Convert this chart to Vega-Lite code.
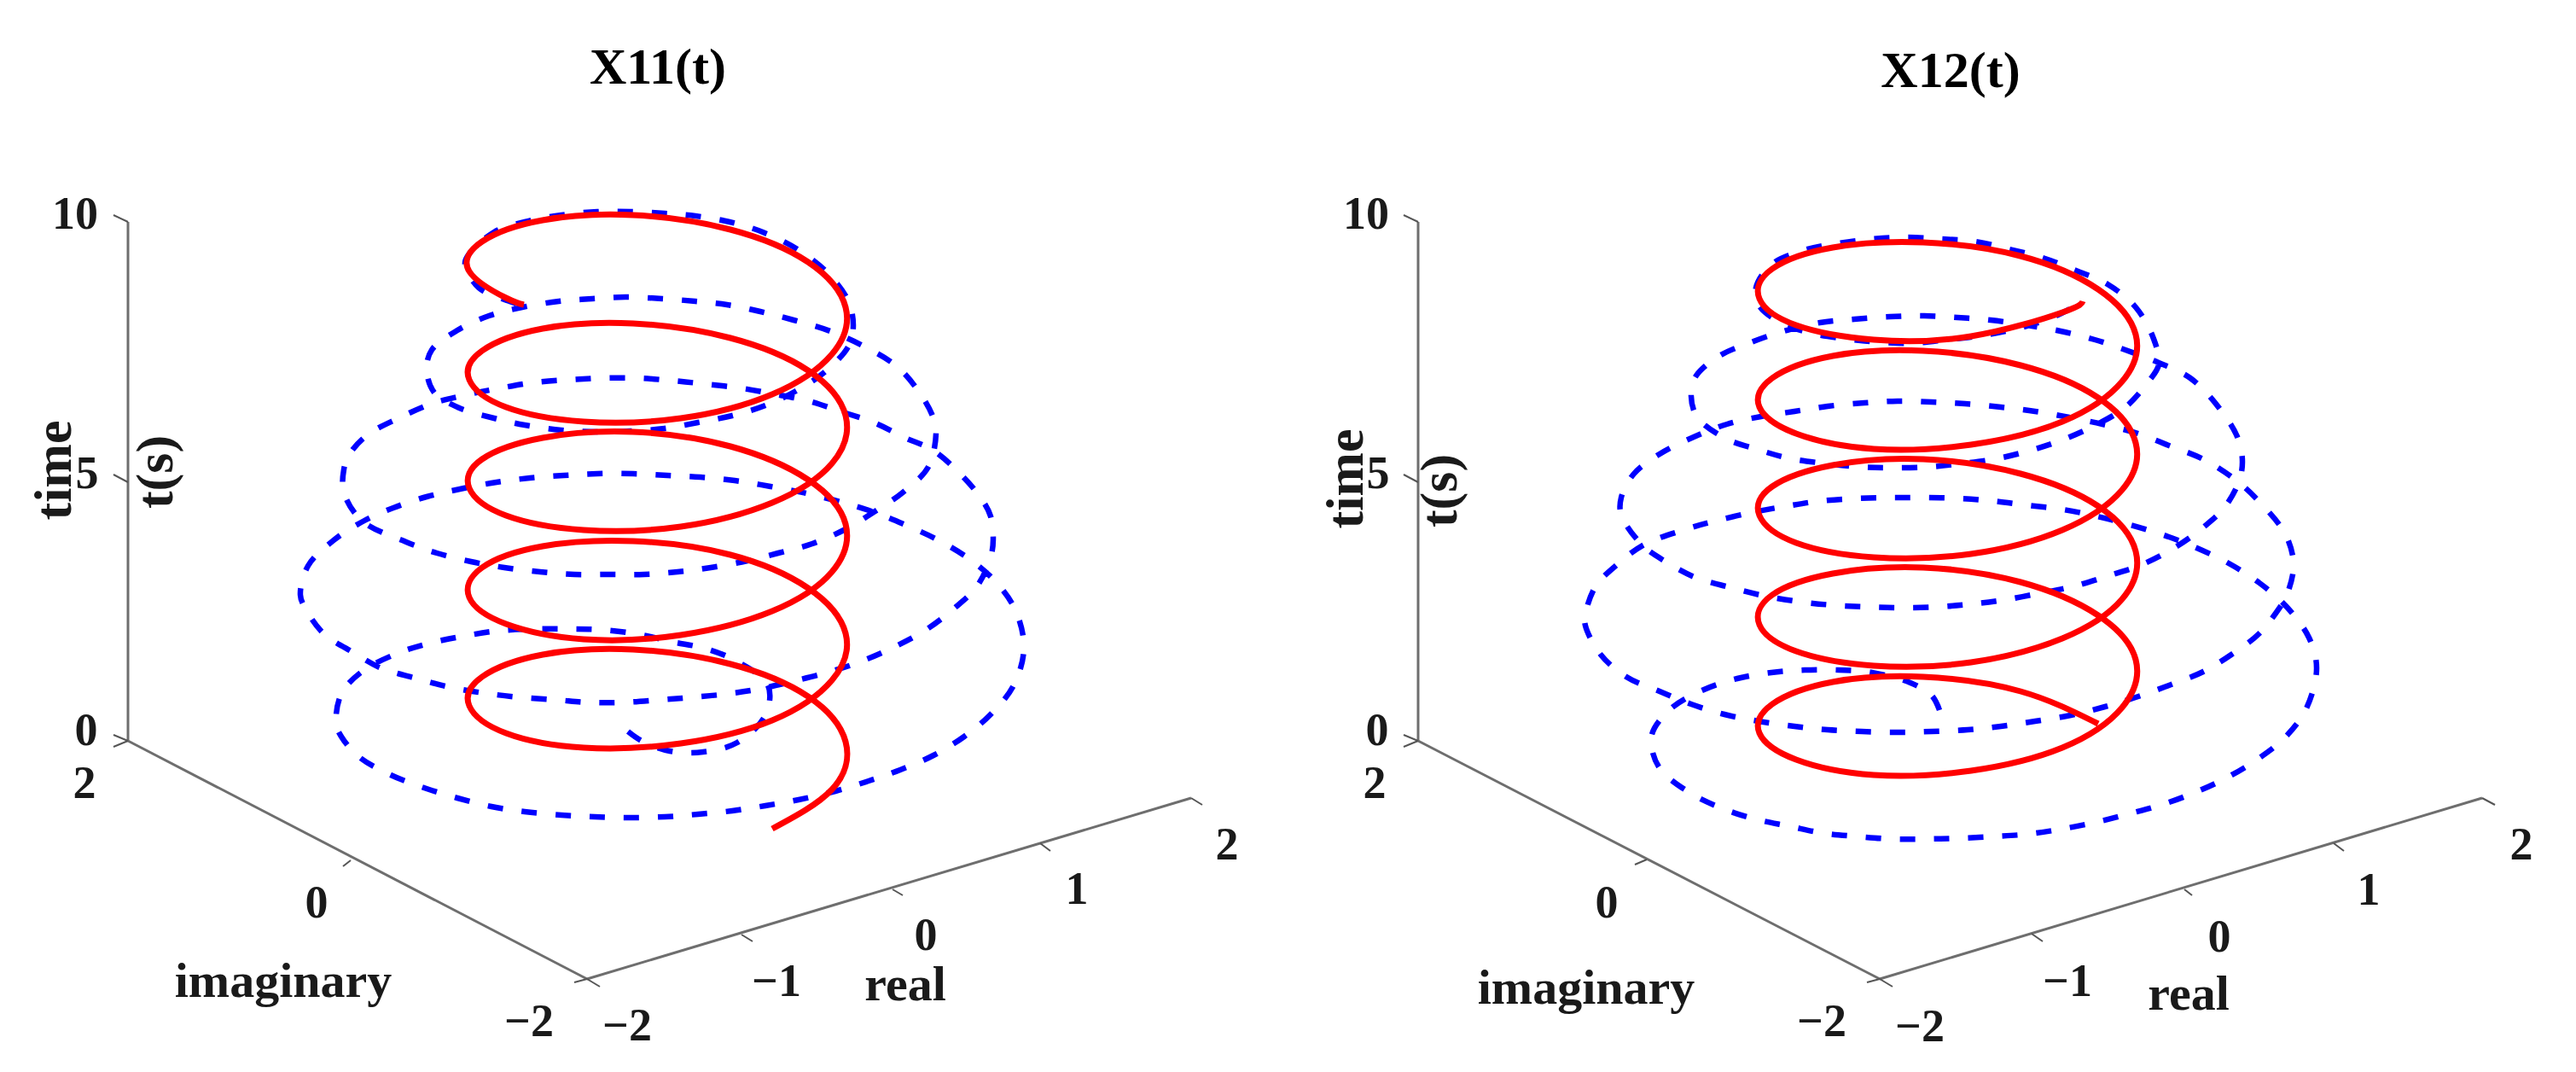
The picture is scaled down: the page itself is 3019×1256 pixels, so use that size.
{"$schema":"https://vega.github.io/schema/vega-lite/v6.json","autosize":{"type":"fit","contains":"padding"},"padding":0,"width":3019,"height":1256,"background":"white","config":{"view":{"stroke":null}},
"datasets":{
"x11_blue":[{"u":736,"v":857},{"u":752,"v":868},{"u":785,"v":880},{"u":824,"v":881},{"u":864,"v":870},{"u":897,"v":838},{"u":900,"v":803},{"u":864,"v":775},{"u":827,"v":760},{"u":788,"v":752},{"u":748,"v":743},{"u":706,"v":738},{"u":667,"v":737},{"u":627,"v":737},{"u":585,"v":739},{"u":545,"v":745},{"u":506,"v":753},{"u":467,"v":765},{"u":424,"v":787},{"u":400,"v":813},{"u":394,"v":848},{"u":400,"v":863},{"u":421,"v":887},{"u":458,"v":908},{"u":497,"v":923},{"u":536,"v":935},{"u":576,"v":945},{"u":615,"v":951},{"u":658,"v":955},{"u":697,"v":957},{"u":736,"v":958},{"u":779,"v":957},{"u":818,"v":954},{"u":858,"v":950},{"u":897,"v":944},{"u":936,"v":937},{"u":979,"v":927},{"u":1018,"v":915},{"u":1055,"v":902},{"u":1094,"v":885},{"u":1130,"v":863},{"u":1161,"v":837},{"u":1188,"v":803},{"u":1200,"v":760},{"u":1191,"v":717},{"u":1170,"v":685},{"u":1139,"v":657},{"u":1100,"v":633},{"u":1061,"v":615},{"u":1024,"v":600},{"u":985,"v":588},{"u":945,"v":578},{"u":903,"v":570},{"u":861,"v":563},{"u":821,"v":559},{"u":782,"v":557},{"u":742,"v":555},{"u":700,"v":555},{"u":661,"v":557},{"u":621,"v":560},{"u":582,"v":565},{"u":539,"v":573},{"u":500,"v":582},{"u":461,"v":595},{"u":427,"v":610},{"u":391,"v":633},{"u":361,"v":663},{"u":352,"v":697},{"u":358,"v":713},{"u":379,"v":742},{"u":415,"v":765},{"u":445,"v":782},{"u":488,"v":795},{"u":527,"v":805},{"u":567,"v":812},{"u":609,"v":817},{"u":652,"v":820},{"u":691,"v":823},{"u":730,"v":823},{"u":773,"v":820},{"u":812,"v":817},{"u":852,"v":813},{"u":891,"v":807},{"u":930,"v":798},{"u":973,"v":787},{"u":1009,"v":775},{"u":1048,"v":758},{"u":1085,"v":738},{"u":1118,"v":713},{"u":1145,"v":687},{"u":1161,"v":653},{"u":1164,"v":632},{"u":1161,"v":605},{"u":1152,"v":587},{"u":1130,"v":560},{"u":1094,"v":528},{"u":1061,"v":513},{"u":1024,"v":495},{"u":988,"v":483},{"u":948,"v":470},{"u":909,"v":462},{"u":870,"v":455},{"u":827,"v":450},{"u":788,"v":446},{"u":748,"v":443},{"u":706,"v":443},{"u":667,"v":445},{"u":627,"v":448},{"u":585,"v":455},{"u":545,"v":463},{"u":506,"v":473},{"u":467,"v":490},{"u":430,"v":510},{"u":409,"v":533},{"u":403,"v":550},{"u":403,"v":577},{"u":424,"v":610},{"u":476,"v":635},{"u":512,"v":648},{"u":552,"v":658},{"u":591,"v":665},{"u":633,"v":670},{"u":673,"v":673},{"u":715,"v":673},{"u":755,"v":673},{"u":794,"v":670},{"u":833,"v":665},{"u":876,"v":657},{"u":912,"v":648},{"u":952,"v":637},{"u":991,"v":620},{"u":1024,"v":600},{"u":1058,"v":577},{"u":1088,"v":547},{"u":1097,"v":507},{"u":1094,"v":490},{"u":1079,"v":462},{"u":1052,"v":430},{"u":1015,"v":407},{"u":973,"v":388},{"u":930,"v":375},{"u":891,"v":365},{"u":852,"v":357},{"u":815,"v":353},{"u":776,"v":350},{"u":733,"v":348},{"u":694,"v":350},{"u":655,"v":353},{"u":612,"v":360},{"u":573,"v":370},{"u":536,"v":387},{"u":506,"v":410},{"u":500,"v":433},{"u":509,"v":460},{"u":536,"v":477},{"u":579,"v":490},{"u":615,"v":498},{"u":658,"v":504},{"u":700,"v":506},{"u":739,"v":505},{"u":779,"v":502},{"u":818,"v":495},{"u":858,"v":487},{"u":897,"v":475},{"u":933,"v":458},{"u":970,"v":433},{"u":997,"v":400},{"u":997,"v":360},{"u":973,"v":323},{"u":936,"v":293},{"u":894,"v":272},{"u":855,"v":260},{"u":815,"v":253},{"u":779,"v":250},{"u":739,"v":248},{"u":700,"v":248},{"u":658,"v":252},{"u":615,"v":260},{"u":579,"v":272},{"u":548,"v":300},{"u":545,"v":310},{"u":561,"v":337},{"u":597,"v":353},{"u":612,"v":358}],
"x11_red":[{"u":905,"v":971},{"u":975,"v":925},{"u":991,"v":869},{"u":947,"v":816},{"u":856,"v":778},{"u":742,"v":761},{"u":636,"v":767},{"u":565,"v":793},{"u":550,"v":827},{"u":593,"v":859},{"u":684,"v":876},{"u":798,"v":871},{"u":905,"v":844},{"u":975,"v":797},{"u":991,"v":742},{"u":947,"v":689},{"u":856,"v":650},{"u":742,"v":634},{"u":636,"v":640},{"u":565,"v":665},{"u":550,"v":700},{"u":593,"v":731},{"u":684,"v":749},{"u":798,"v":744},{"u":905,"v":716},{"u":975,"v":670},{"u":991,"v":614},{"u":947,"v":562},{"u":856,"v":523},{"u":742,"v":506},{"u":636,"v":513},{"u":565,"v":538},{"u":550,"v":572},{"u":593,"v":604},{"u":684,"v":621},{"u":798,"v":617},{"u":905,"v":589},{"u":975,"v":543},{"u":991,"v":487},{"u":947,"v":434},{"u":856,"v":396},{"u":742,"v":379},{"u":636,"v":385},{"u":565,"v":411},{"u":550,"v":445},{"u":593,"v":477},{"u":684,"v":494},{"u":798,"v":490},{"u":905,"v":462},{"u":975,"v":415},{"u":991,"v":360},{"u":947,"v":307},{"u":856,"v":269},{"u":742,"v":252},{"u":636,"v":258},{"u":565,"v":283},{"u":550,"v":318},{"u":593,"v":349},{"u":614,"v":357}],
"x12_blue":[{"u":2273,"v":832},{"u":2264,"v":815},{"u":2239,"v":800},{"u":2194,"v":788},{"u":2155,"v":785},{"u":2115,"v":785},{"u":2076,"v":788},{"u":2036,"v":795},{"u":1997,"v":808},{"u":1961,"v":828},{"u":1939,"v":853},{"u":1935,"v":870},{"u":1945,"v":900},{"u":1979,"v":928},{"u":2018,"v":947},{"u":2058,"v":960},{"u":2097,"v":968},{"u":2136,"v":976},{"u":2176,"v":980},{"u":2218,"v":983},{"u":2258,"v":983},{"u":2297,"v":982},{"u":2339,"v":980},{"u":2379,"v":977},{"u":2418,"v":971},{"u":2458,"v":963},{"u":2497,"v":953},{"u":2536,"v":942},{"u":2576,"v":927},{"u":2612,"v":910},{"u":2648,"v":888},{"u":2679,"v":863},{"u":2703,"v":830},{"u":2715,"v":783},{"u":2706,"v":747},{"u":2679,"v":710},{"u":2648,"v":683},{"u":2612,"v":660},{"u":2570,"v":640},{"u":2536,"v":627},{"u":2497,"v":615},{"u":2458,"v":605},{"u":2418,"v":597},{"u":2376,"v":592},{"u":2336,"v":587},{"u":2297,"v":584},{"u":2255,"v":583},{"u":2215,"v":583},{"u":2176,"v":584},{"u":2133,"v":587},{"u":2094,"v":593},{"u":2055,"v":600},{"u":2012,"v":610},{"u":1976,"v":620},{"u":1927,"v":638},{"u":1897,"v":660},{"u":1870,"v":687},{"u":1858,"v":720},{"u":1858,"v":733},{"u":1876,"v":767},{"u":1906,"v":793},{"u":1945,"v":810},{"u":1982,"v":825},{"u":2021,"v":837},{"u":2061,"v":845},{"u":2103,"v":851},{"u":2142,"v":855},{"u":2182,"v":857},{"u":2224,"v":858},{"u":2264,"v":857},{"u":2306,"v":855},{"u":2345,"v":851},{"u":2385,"v":845},{"u":2427,"v":838},{"u":2467,"v":828},{"u":2503,"v":817},{"u":2542,"v":803},{"u":2582,"v":787},{"u":2615,"v":767},{"u":2648,"v":742},{"u":2673,"v":710},{"u":2679,"v":700},{"u":2688,"v":663},{"u":2679,"v":627},{"u":2648,"v":588},{"u":2621,"v":563},{"u":2582,"v":538},{"u":2542,"v":522},{"u":2506,"v":508},{"u":2464,"v":497},{"u":2425,"v":489},{"u":2385,"v":482},{"u":2345,"v":477},{"u":2303,"v":473},{"u":2264,"v":471},{"u":2224,"v":470},{"u":2185,"v":472},{"u":2142,"v":476},{"u":2103,"v":482},{"u":2064,"v":488},{"u":2024,"v":497},{"u":1985,"v":512},{"u":1945,"v":532},{"u":1915,"v":555},{"u":1900,"v":583},{"u":1900,"v":603},{"u":1924,"v":638},{"u":1952,"v":658},{"u":1988,"v":677},{"u":2027,"v":688},{"u":2067,"v":698},{"u":2109,"v":705},{"u":2148,"v":709},{"u":2188,"v":711},{"u":2227,"v":712},{"u":2270,"v":711},{"u":2309,"v":708},{"u":2348,"v":703},{"u":2391,"v":695},{"u":2430,"v":687},{"u":2470,"v":675},{"u":2509,"v":662},{"u":2548,"v":642},{"u":2582,"v":618},{"u":2609,"v":592},{"u":2627,"v":553},{"u":2624,"v":517},{"u":2600,"v":477},{"u":2567,"v":443},{"u":2530,"v":425},{"u":2491,"v":410},{"u":2455,"v":398},{"u":2415,"v":388},{"u":2375,"v":381},{"u":2333,"v":375},{"u":2294,"v":372},{"u":2255,"v":370},{"u":2215,"v":371},{"u":2173,"v":374},{"u":2133,"v":378},{"u":2094,"v":387},{"u":2055,"v":400},{"u":2015,"v":417},{"u":1988,"v":440},{"u":1982,"v":457},{"u":1988,"v":487},{"u":2021,"v":513},{"u":2061,"v":527},{"u":2097,"v":537},{"u":2139,"v":543},{"u":2179,"v":547},{"u":2218,"v":548},{"u":2261,"v":547},{"u":2300,"v":543},{"u":2342,"v":537},{"u":2382,"v":527},{"u":2418,"v":515},{"u":2458,"v":497},{"u":2491,"v":477},{"u":2518,"v":447},{"u":2530,"v":427},{"u":2524,"v":397},{"u":2503,"v":360},{"u":2470,"v":333},{"u":2433,"v":317},{"u":2394,"v":302},{"u":2355,"v":292},{"u":2315,"v":283},{"u":2276,"v":280},{"u":2233,"v":278},{"u":2194,"v":280},{"u":2155,"v":285},{"u":2115,"v":293},{"u":2076,"v":310},{"u":2058,"v":337},{"u":2061,"v":357},{"u":2085,"v":377},{"u":2121,"v":390},{"u":2164,"v":397},{"u":2203,"v":401},{"u":2242,"v":402},{"u":2282,"v":398},{"u":2324,"v":393},{"u":2364,"v":385},{"u":2403,"v":373},{"u":2439,"v":355}],
"x12_red":[{"u":2459,"v":848},{"u":2368,"v":810},{"u":2254,"v":793},{"u":2148,"v":799},{"u":2077,"v":825},{"u":2062,"v":859},{"u":2105,"v":890},{"u":2196,"v":908},{"u":2310,"v":903},{"u":2417,"v":876},{"u":2487,"v":829},{"u":2503,"v":773},{"u":2459,"v":721},{"u":2368,"v":682},{"u":2254,"v":665},{"u":2148,"v":672},{"u":2077,"v":697},{"u":2062,"v":732},{"u":2105,"v":763},{"u":2196,"v":780},{"u":2310,"v":776},{"u":2417,"v":748},{"u":2487,"v":702},{"u":2503,"v":646},{"u":2459,"v":593},{"u":2368,"v":555},{"u":2254,"v":538},{"u":2148,"v":545},{"u":2077,"v":570},{"u":2062,"v":604},{"u":2105,"v":636},{"u":2196,"v":653},{"u":2310,"v":649},{"u":2417,"v":621},{"u":2487,"v":574},{"u":2503,"v":519},{"u":2459,"v":466},{"u":2368,"v":428},{"u":2254,"v":411},{"u":2148,"v":417},{"u":2077,"v":443},{"u":2062,"v":477},{"u":2105,"v":508},{"u":2196,"v":526},{"u":2310,"v":521},{"u":2417,"v":494},{"u":2487,"v":447},{"u":2503,"v":392},{"u":2459,"v":339},{"u":2368,"v":300},{"u":2254,"v":284},{"u":2148,"v":290},{"u":2077,"v":315},{"u":2062,"v":350},{"u":2105,"v":381},{"u":2196,"v":398},{"u":2310,"v":394},{"u":2417,"v":366},{"u":2441,"v":353}],
"axes":[{"u":150,"v":260,"u2":150,"v2":868},{"u":150,"v":868,"u2":688,"v2":1147},{"u":688,"v":1147,"u2":1396,"v2":935},{"u":1662,"v":260,"u2":1662,"v2":868},{"u":1662,"v":868,"u2":2203,"v2":1147},{"u":2203,"v":1147,"u2":2909,"v2":935}],
"ticks":[{"u":150,"v":260,"u2":133,"v2":252},{"u":150,"v":565,"u2":133,"v2":556},{"u":150,"v":868,"u2":133,"v2":861},{"u":150,"v":868,"u2":133,"v2":875},{"u":411,"v":1008,"u2":402,"v2":1015},{"u":688,"v":1147,"u2":673,"v2":1151},{"u":688,"v":1147,"u2":703,"v2":1156},{"u":869,"v":1095,"u2":882,"v2":1103},{"u":1046,"v":1042,"u2":1058,"v2":1049},{"u":1219,"v":988,"u2":1231,"v2":997},{"u":1396,"v":935,"u2":1409,"v2":943},{"u":1662,"v":260,"u2":1645,"v2":252},{"u":1662,"v":565,"u2":1645,"v2":556},{"u":1662,"v":868,"u2":1645,"v2":861},{"u":1662,"v":868,"u2":1645,"v2":875},{"u":1930,"v":1007,"u2":1916,"v2":1013},{"u":2203,"v":1147,"u2":2188,"v2":1151},{"u":2203,"v":1147,"u2":2218,"v2":1156},{"u":2381,"v":1094,"u2":2394,"v2":1103},{"u":2560,"v":1042,"u2":2569,"v2":1049},{"u":2735,"v":988,"u2":2747,"v2":997},{"u":2909,"v":935,"u2":2924,"v2":943}],
"titles":[{"label":"X11(t)","u":771,"v":98},{"label":"X12(t)","u":2286,"v":102}],
"ticklabels":[{"label":"10","u":88,"v":268},{"label":"5","u":102,"v":572},{"label":"0","u":101,"v":873},{"label":"2","u":99,"v":935},{"label":"0","u":371,"v":1075},{"label":"−2","u":620,"v":1214},{"label":"−2","u":735,"v":1219},{"label":"−1","u":910,"v":1167},{"label":"0","u":1085,"v":1113},{"label":"1","u":1262,"v":1059},{"label":"2","u":1438,"v":1007},{"label":"10","u":1601,"v":268},{"label":"5","u":1615,"v":572},{"label":"0","u":1614,"v":873},{"label":"2","u":1611,"v":935},{"label":"0","u":1883,"v":1075},{"label":"−2","u":2135,"v":1214},{"label":"−2","u":2250,"v":1220},{"label":"−1","u":2423,"v":1167},{"label":"0","u":2601,"v":1115},{"label":"1","u":2776,"v":1060},{"label":"2","u":2955,"v":1007}],
"axislabels":[{"label":"imaginary","u":332,"v":1168},{"label":"real","u":1061,"v":1172},{"label":"imaginary","u":1859,"v":1176},{"label":"real","u":2565,"v":1183}],
"timelabels":[{"label":"time","u":83,"v":551},{"label":"t(s)","u":202,"v":553},{"label":"time","u":1597,"v":561},{"label":"t(s)","u":1707,"v":575}]
},
"encoding":{"x":{"field":"u","type":"quantitative","scale":{"domain":[0,3019]},"axis":null},"y":{"field":"v","type":"quantitative","scale":{"domain":[1256,0]},"axis":null}},
"layer":[
{"data":{"name":"axes"},"mark":{"type":"rule","color":"#6e6e6e","strokeWidth":3},"encoding":{"x2":{"field":"u2"},"y2":{"field":"v2"}}},
{"data":{"name":"ticks"},"mark":{"type":"rule","color":"#555555","strokeWidth":2},"encoding":{"x2":{"field":"u2"},"y2":{"field":"v2"}}},
{"data":{"name":"x11_blue"},"mark":{"type":"line","color":"#0000ff","strokeWidth":6.5,"strokeDash":[18,22],"interpolate":"catmull-rom"},"encoding":{"order":{"value":null}}},
{"data":{"name":"x12_blue"},"mark":{"type":"line","color":"#0000ff","strokeWidth":6.5,"strokeDash":[18,22],"interpolate":"catmull-rom"},"encoding":{"order":{"value":null}}},
{"data":{"name":"x11_red"},"mark":{"type":"line","color":"#ff0000","strokeWidth":7,"interpolate":"natural"},"encoding":{"order":{"value":null}}},
{"data":{"name":"x12_red"},"mark":{"type":"line","color":"#ff0000","strokeWidth":7,"interpolate":"natural"},"encoding":{"order":{"value":null}}},
{"data":{"name":"titles"},"mark":{"type":"text","font":"Liberation Serif","fontWeight":"bold","fontSize":60,"align":"center","baseline":"alphabetic","color":"black"},"encoding":{"text":{"field":"label"}}},
{"data":{"name":"ticklabels"},"mark":{"type":"text","font":"Liberation Serif","fontWeight":"bold","fontSize":54,"align":"center","baseline":"alphabetic","color":"#1a1a1a"},"encoding":{"text":{"field":"label"}}},
{"data":{"name":"axislabels"},"mark":{"type":"text","font":"Liberation Serif","fontWeight":"bold","fontSize":58,"align":"center","baseline":"alphabetic","color":"#1a1a1a"},"encoding":{"text":{"field":"label"}}},
{"data":{"name":"timelabels"},"mark":{"type":"text","font":"Liberation Serif","fontWeight":"bold","fontSize":62,"align":"center","baseline":"alphabetic","angle":270,"color":"#1a1a1a"},"encoding":{"text":{"field":"label"}}}
]}
